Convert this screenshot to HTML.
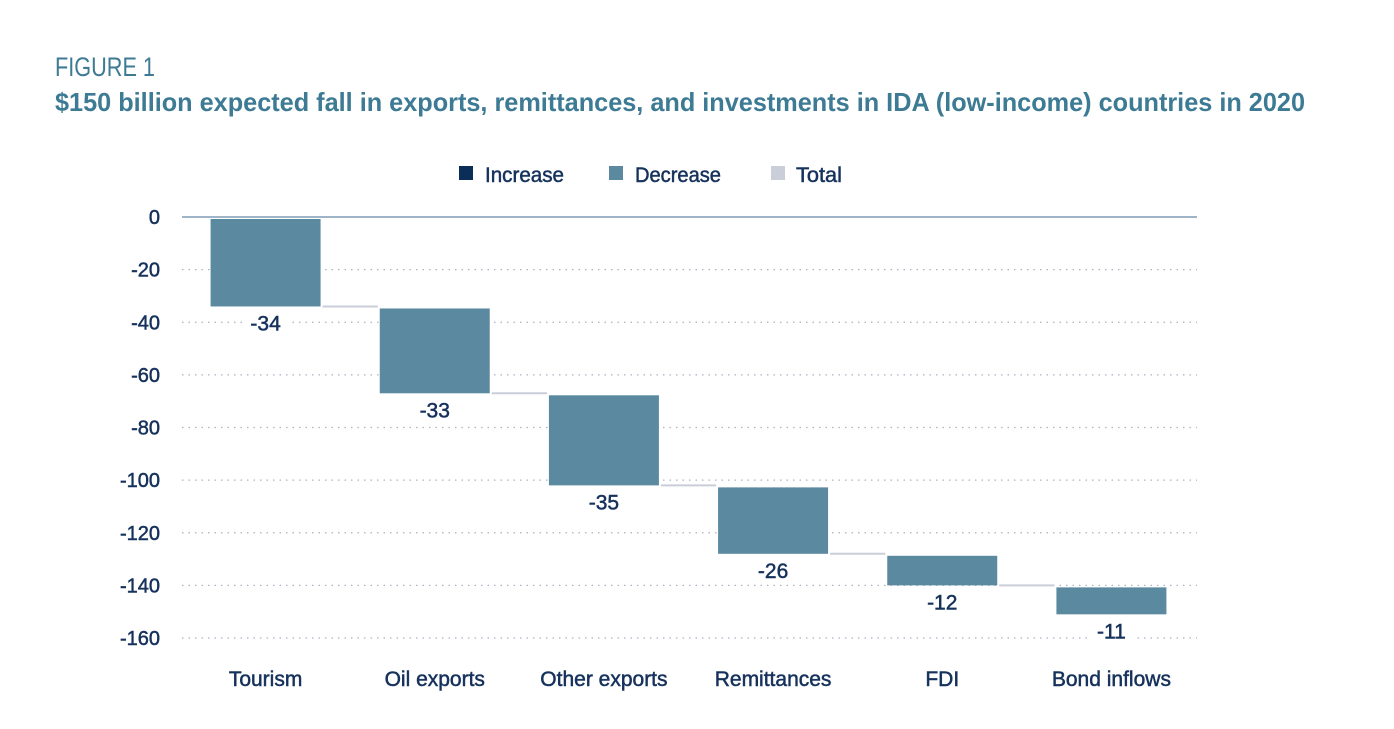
<!DOCTYPE html>
<html><head><meta charset="utf-8"><style>
body{margin:0;background:#fff;width:1394px;height:724px;overflow:hidden}
svg text{font-family:"Liberation Sans Narrow","Liberation Sans",sans-serif}
.lbl{stroke:#16325c;stroke-width:0.5px}
</style></head><body>
<svg id="chart" width="1394" height="724" xmlns="http://www.w3.org/2000/svg">
<text x="55" y="76" font-size="27" fill="#3d7a94" textLength="100" lengthAdjust="spacingAndGlyphs">FIGURE 1</text>
<text x="55" y="111" font-size="26" font-weight="bold" fill="#3d7a94" textLength="1250" lengthAdjust="spacingAndGlyphs">$150 billion expected fall in exports, remittances, and investments in IDA (low-income) countries in 2020</text>
<g>
<rect x="459" y="166" width="14" height="14" fill="#0b2e59"/>
<text class="lbl" x="485" y="182" font-size="21" fill="#16325c" textLength="79" lengthAdjust="spacingAndGlyphs">Increase</text>
<rect x="609" y="166" width="14" height="14" fill="#5b89a0"/>
<text class="lbl" x="635" y="182" font-size="21" fill="#16325c" textLength="86" lengthAdjust="spacingAndGlyphs">Decrease</text>
<rect x="771" y="166" width="14" height="14" fill="#c9ced9"/>
<text class="lbl" x="796" y="182" font-size="21" fill="#16325c" textLength="46" lengthAdjust="spacingAndGlyphs">Total</text>
</g>
<g id="grid"></g><g id="bars"></g>
</svg>
<script>
const categories=["Tourism","Oil exports","Other exports","Remittances","FDI","Bond inflows"];
const changes=[-34,-33,-35,-26,-12,-11];
const labels=["-34","-33","-35","-26","-12","-11"];
const ticks=[0,-20,-40,-60,-80,-100,-120,-140,-160];
const NS="http://www.w3.org/2000/svg";
const X0=182,X1=1197,Y0=217,PPU=421/160;
const y=v=>Y0-v*PPU;
const band=(X1-X0)/categories.length;
const xc=i=>X0+band*(i+0.5)-1;
const BW=110;
function el(t,a,p){const e=document.createElementNS(NS,t);for(const k in a)e.setAttribute(k,a[k]);p.appendChild(e);return e;}
const g=document.getElementById('grid'),b=document.getElementById('bars');
ticks.forEach(t=>{
 const l=el('line',{x1:X0,x2:X1,y1:y(t),y2:y(t),stroke:t===0?'#9fb4c6':'#aab3bf','stroke-width':t===0?2:1.3,'stroke-dasharray':t===0?'':'1.5 5'},g);
 
 
 const tx=el('text',{x:160,y:y(t)+7,'font-size':20,fill:'#16325c','text-anchor':'end',class:'lbl'},g);
 tx.textContent=String(t);
 
 
});
let cum=0;
changes.forEach((c,i)=>{
 const start=cum,end=cum+c;cum=end;
 const top=y(start)+2,bot=y(end);
 const r=el('rect',{x:xc(i)-BW/2,y:Math.min(top,bot),width:BW,height:Math.abs(bot-top),fill:c<0?'#5b89a0':'#0b2e59'},b);
 
 
 if(i<changes.length-1){
  const cn=el('line',{x1:xc(i)+BW/2+2,x2:xc(i+1)-BW/2-2,y1:bot,y2:bot,stroke:'#c9ced9','stroke-width':2},b);
  
  
 }
 const bg=el('rect',{x:xc(i)-22,y:bot+4,width:44,height:24,fill:'#fff'},b);
 
 
 const vl=el('text',{x:xc(i),y:bot+24,'font-size':21,fill:'#16325c','text-anchor':'middle',class:'lbl'},b);
 vl.textContent=labels[i];
 
 
 const cl=el('text',{x:xc(i),y:686,'font-size':21,fill:'#16325c','text-anchor':'middle',class:'lbl'},b);
 cl.textContent=categories[i];
 
 
});
</script>
</body></html>
